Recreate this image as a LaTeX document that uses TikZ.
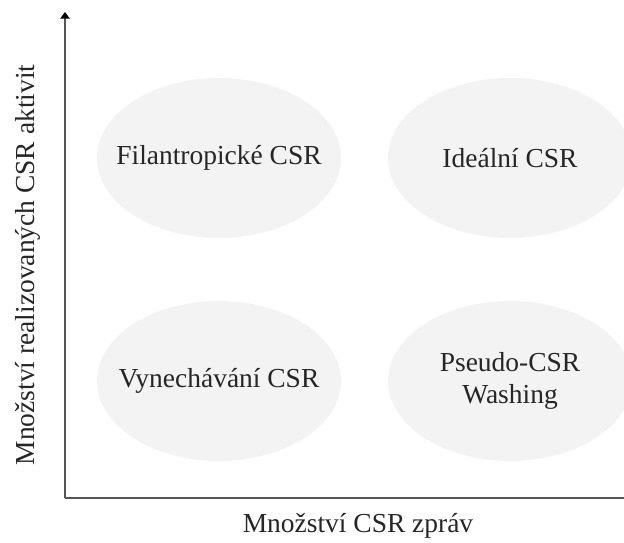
\documentclass[tikz,border=0pt]{standalone}
\usepackage{fontspec}
\setmainfont{Liberation Serif}
\usetikzlibrary{arrows.meta}

\definecolor{blobgray}{RGB}{243,243,243}
\definecolor{axisgray}{RGB}{85,85,85}

\begin{document}
\begin{tikzpicture}[x=0.75pt, y=-0.75pt,
    every node/.style={font=\fontsize{20.6}{23.5}\selectfont, text=black!85, align=center},
    blob/.style={fill=blobgray},
    axis/.style={draw=axisgray, line width=1.2pt, -{Triangle[length=5pt, width=7pt, color=black]}}]
        \clip (0,0) rectangle (624,542);

        % quadrant blobs
        \fill[blob] (219,158) ellipse [x radius=122, y radius=80];
        \fill[blob] (510,158) ellipse [x radius=122, y radius=80];
        \fill[blob] (219,381) ellipse [x radius=122, y radius=80];
        \fill[blob] (510,381) ellipse [x radius=122, y radius=80];

        \node (filan) at (219,158) {Filantropické CSR};
        \node (idealni) at (510,158) {Ideální CSR};
        \node (vynech) at (219,381) {Vynechávání CSR};
        \node (pseudo) at (510,381) {Pseudo-CSR\\Washing};

        \coordinate (origin) at (65,498);
        \coordinate (ytop) at (65,12);
        \coordinate (xend) at (631,498);

        \draw[axis] (origin) -- (ytop);
        \draw[axis] (origin) -- (xend);

        \node[rotate=90] (ylab) at (28,265) {Množství realizovaných CSR aktivit};
        \node (xlab) at (358,526) {Množství CSR zpráv};
    \end{tikzpicture}
\end{document}
